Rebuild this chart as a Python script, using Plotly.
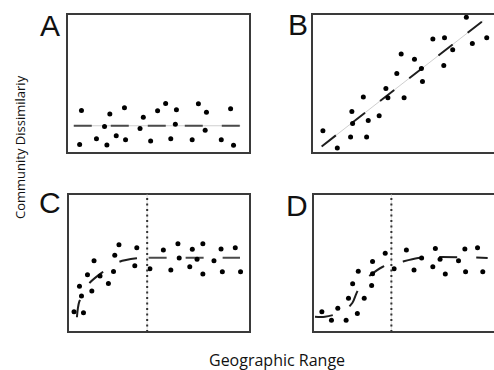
import plotly.graph_objects as go

W, H = 494, 370

# ---------------- data (panel units 0-10) ----------------
a_x = [0.79, 0.69, 2.34, 2.05, 1.61, 2.18, 2.69, 3.14, 3.20, 3.99, 4.17, 4.57,
       4.95, 5.39, 5.67, 5.98, 5.92, 6.84, 7.18, 7.62, 7.55, 8.43, 8.94, 9.10]
a_y = [3.06, 0.62, 2.80, 1.91, 1.03, 0.57, 1.24, 3.25, 0.96, 1.77, 2.58, 0.86,
       3.04, 3.56, 1.03, 3.11, 2.06, 0.96, 3.54, 2.94, 1.63, 0.96, 3.18, 0.55]
a_fit_x = [0.37, 9.47]
a_fit_y = [1.96, 1.96]

b_x = [0.60, 1.39, 2.12, 2.19, 2.23, 2.82, 3.00, 3.09, 3.69, 4.06, 4.17, 4.66,
       4.90, 5.06, 5.63, 6.01, 6.07, 6.64, 7.28, 7.24, 7.73, 8.48, 8.81, 9.60]
b_y = [1.60, 0.36, 1.15, 2.99, 2.13, 4.02, 1.15, 2.34, 2.68, 4.64, 3.97, 5.72,
       7.13, 3.97, 6.75, 6.08, 5.14, 8.21, 8.30, 6.29, 7.42, 9.76, 7.87, 8.30]
b_fit_x = [0.53, 9.41]
b_fit_y = [0.47, 9.52]

c_x = [0.33, 0.85, 0.63, 0.74, 1.07, 1.31, 1.43, 1.76, 2.22, 2.50, 2.57, 2.80,
       3.67, 3.78, 4.50, 5.24, 5.65, 6.04, 6.11, 6.69, 6.83, 7.09, 7.41, 7.41,
       8.02, 8.41, 8.48, 9.19, 9.48]
c_y = [1.46, 1.39, 3.32, 2.61, 4.15, 2.98, 5.17, 4.05, 3.51, 4.39, 5.56, 6.32,
       4.80, 6.10, 4.59, 5.95, 4.49, 6.39, 5.37, 4.73, 6.00, 5.27, 4.20, 6.39,
       5.17, 6.02, 4.37, 6.10, 4.37]
c_curve_x = [0.49, 0.62, 1.17, 1.81, 2.82, 3.77, 4.30]
c_curve_y = [1.07, 2.20, 3.53, 4.25, 5.09, 5.34, 5.38]
c_flat_x = [4.43, 9.45]
c_flat_y = [5.38, 5.38]
c_break = 4.35

d_x = [0.49, 1.02, 1.37, 1.83, 1.96, 2.19, 2.45, 2.50, 2.83, 3.24, 3.29, 3.29,
       3.99, 4.48, 5.16, 5.58, 6.00, 6.62, 6.76, 7.02, 7.31, 8.04, 8.39, 8.43,
       9.09, 9.38]
d_y = [1.46, 0.85, 1.73, 0.85, 2.44, 3.49, 1.34, 4.41, 2.44, 3.37, 4.22, 5.10,
       5.71, 4.59, 5.95, 4.49, 5.37, 4.73, 6.05, 5.27, 4.20, 5.17, 6.02, 4.37,
       6.10, 4.37]
d_fit_x = [0.11, 0.66, 1.66, 2.18, 2.40, 2.76, 3.86, 4.74, 5.81, 9.65]
d_fit_y = [1.11, 1.11, 1.47, 2.12, 2.80, 3.64, 4.73, 5.02, 5.37, 5.37]
d_break = 4.33

panel_labels = ["A", "B", "C", "D"]
x_title = "Geographic Range"
y_title = "Community Dissimilariy"

# ---------------- layout geometry (pixels) ----------------
def px_dom_x(a, b):
    return [a / W, min(b / W, 1.0)]

def px_dom_y(top, bottom):
    return [1 - bottom / H, 1 - top / H]

doms = {
    1: (px_dom_x(67, 250), px_dom_y(14, 153)),
    2: (px_dom_x(312, 494), px_dom_y(14, 153)),
    3: (px_dom_x(68, 250), px_dom_y(194, 332)),
    4: (px_dom_x(313, 494), px_dom_y(194, 332)),
}

fig = go.Figure()

DASH = "18px,19px"
DASH_COL = "#4a4a4a"
FAINT = "#cfcfcf"


def ax(i):
    return ("x" if i == 1 else f"x{i}"), ("y" if i == 1 else f"y{i}")


def add_line(i, xs, ys, color, width, dash=None, shape="linear"):
    xa, ya = ax(i)
    fig.add_trace(go.Scatter(x=xs, y=ys, mode="lines", xaxis=xa, yaxis=ya,
                             line=dict(color=color, width=width, dash=dash,
                                       shape=shape, smoothing=0.8),
                             hoverinfo="skip", showlegend=False))


def add_dots(i, xs, ys):
    xa, ya = ax(i)
    fig.add_trace(go.Scatter(x=xs, y=ys, mode="markers", xaxis=xa, yaxis=ya,
                             marker=dict(color="black", size=5),
                             hoverinfo="skip", showlegend=False))


# Panel A
add_line(1, a_fit_x, a_fit_y, FAINT, 1)
add_line(1, a_fit_x, a_fit_y, DASH_COL, 2, DASH)
add_dots(1, a_x, a_y)
# Panel B
add_line(2, b_fit_x, b_fit_y, FAINT, 1)
add_line(2, b_fit_x, b_fit_y, "#1e1e1e", 2, DASH)
add_dots(2, b_x, b_y)
# Panel C
add_line(3, c_curve_x, c_curve_y, "#1e1e1e", 2, DASH, "spline")
add_line(3, c_flat_x, c_flat_y, DASH_COL, 2, DASH)
add_dots(3, c_x, c_y)
# Panel D
add_line(4, d_fit_x, d_fit_y, "#1e1e1e", 2, DASH, "spline")
add_dots(4, d_x, d_y)

axis_common = dict(range=[0, 10], visible=False, fixedrange=True)
for i, (dx, dy) in doms.items():
    sfx = "" if i == 1 else str(i)
    fig.update_layout({
        f"xaxis{sfx}": dict(domain=dx, anchor=f"y{sfx}", **axis_common),
        f"yaxis{sfx}": dict(domain=dy, anchor=f"x{sfx}", **axis_common),
    })

shapes = []
FRAME = "#3a3a3a"
for i in doms:
    xa, ya = ax(i)
    x1 = 1.0 if i in (1, 3) else 1.05
    shapes.append(dict(type="rect", xref=f"{xa} domain", yref=f"{ya} domain",
                       x0=0, x1=x1, y0=0, y1=1,
                       line=dict(color=FRAME, width=2), layer="above"))
# breakpoint lines in C and D
for i, xb in ((3, c_break), (4, d_break)):
    xa, ya = ax(i)
    shapes.append(dict(type="line", xref=xa, yref=f"{ya} domain",
                       x0=xb, x1=xb, y0=0, y1=1,
                       line=dict(color="#dddddd", width=1)))
    shapes.append(dict(type="line", xref=xa, yref=f"{ya} domain",
                       x0=xb, x1=xb, y0=0, y1=1,
                       line=dict(color="#333333", width=2, dash="2px,3.5px")))

annotations = []
label_pos = [(50, 26), (297.5, 25), (49.5, 203), (296.5, 205)]
for lab, (cx, cy) in zip(panel_labels, label_pos):
    annotations.append(dict(text=lab, xref="paper", yref="paper",
                            x=cx / W, y=1 - cy / H, xanchor="center", yanchor="middle",
                            showarrow=False,
                            font=dict(family="Liberation Sans, Arial", size=30, color="#111")))
annotations.append(dict(text=x_title, xref="paper", yref="paper",
                        x=277 / W, y=1 - 360 / H, xanchor="center", yanchor="middle",
                        showarrow=False,
                        font=dict(family="Open Sans", size=16, color="#111")))
annotations.append(dict(text=y_title, xref="paper", yref="paper",
                        x=20 / W, y=1 - 147 / H, xanchor="center", yanchor="middle",
                        textangle=-90, showarrow=False,
                        font=dict(family="Open Sans", size=13, color="#111")))

fig.update_layout(width=W, height=H, margin=dict(l=0, r=0, t=0, b=0),
                  paper_bgcolor="white", plot_bgcolor="white",
                  shapes=shapes, annotations=annotations, showlegend=False)

fig.write_html("out.html", config={"displayModeBar": False},
               post_script="document.body.style.margin='0';document.body.style.overflow='hidden';")
